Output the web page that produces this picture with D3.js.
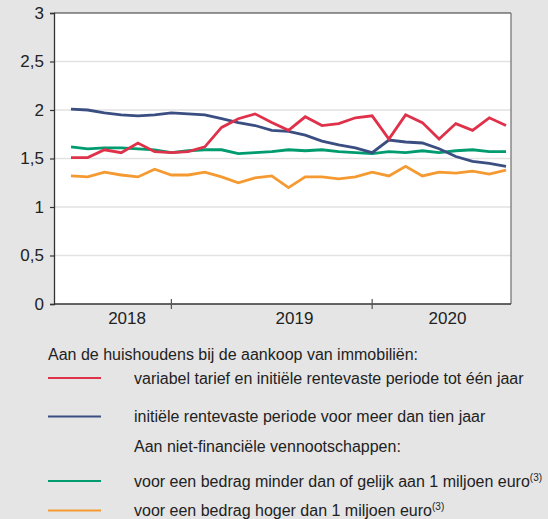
<!DOCTYPE html>
<html>
<head>
<meta charset="utf-8">
<script src="https://cdn.jsdelivr.net/npm/d3@7"></script>
<style>
  html, body { margin: 0; padding: 0; background: #e5e5e5; }
  svg { display: block; font-family: "Liberation Sans", Arial, sans-serif; }
</style>
</head>
<body>
<svg id="chart" width="548" height="519"></svg>
<script>
// ---- Data (monthly, Jul 2018 – Sep 2020) ----
const months = ["2018-07","2018-08","2018-09","2018-10","2018-11","2018-12",
  "2019-01","2019-02","2019-03","2019-04","2019-05","2019-06","2019-07","2019-08","2019-09","2019-10","2019-11","2019-12",
  "2020-01","2020-02","2020-03","2020-04","2020-05","2020-06","2020-07","2020-08","2020-09"];
const variabel = [1.51,1.51,1.59,1.56,1.66,1.57,1.56,1.57,1.62,1.82,1.91,1.96,1.87,1.79,1.93,1.84,1.86,1.92,1.94,1.70,1.95,1.87,1.70,1.86,1.79,1.92,1.84];
const tienJaar = [2.01,2.00,1.97,1.95,1.94,1.95,1.97,1.96,1.95,1.91,1.87,1.84,1.79,1.78,1.74,1.68,1.64,1.61,1.56,1.69,1.67,1.66,1.60,1.52,1.47,1.45,1.42];
const minder1m = [1.62,1.60,1.61,1.61,1.60,1.59,1.56,1.58,1.59,1.59,1.55,1.56,1.57,1.59,1.58,1.59,1.57,1.56,1.55,1.57,1.56,1.58,1.56,1.58,1.59,1.57,1.57];
const hoger1m = [1.32,1.31,1.36,1.33,1.31,1.39,1.33,1.33,1.36,1.31,1.25,1.30,1.32,1.20,1.31,1.31,1.29,1.31,1.36,1.32,1.42,1.32,1.36,1.35,1.37,1.34,1.38];
const yTicks = [0, 0.5, 1, 1.5, 2, 2.5, 3];
const yTickLabels = ["0","0,5","1","1,5","2","2,5","3"];
const years = ["2018","2019","2020"];

const seriesNames = [
  "variabel tarief en initiële rentevaste periode tot één jaar",
  "initiële rentevaste periode voor meer dan tien jaar",
  "voor een bedrag minder dan of gelijk aan 1 miljoen euro",
  "voor een bedrag hoger dan 1 miljoen euro"
];
const heading1 = "Aan de huishoudens bij de aankoop van immobiliën:";
const heading2 = "Aan niet-financiële vennootschappen:";

// ---- Layout ----
const colors = ["#e0314b", "#3b4e82", "#009b6e", "#f59a31"];
const frame = { left: 54, right: 511, top: 13, bottom: 304 };
const yearLabelIdx = [3.35, 13.36, 22.5];

const svg = d3.select("#chart");
const x = d3.scaleLinear().domain([0, months.length - 1]).range([71, 506]);
const y = d3.scaleLinear().domain([0, 3]).range([frame.bottom, frame.top]);

// plot background
svg.append("rect")
  .attr("x", frame.left).attr("y", frame.top)
  .attr("width", frame.right - frame.left).attr("height", frame.bottom - frame.top)
  .attr("fill", "#ffffff");

// gridlines
svg.append("g").selectAll("line").data(yTicks.filter(v => v > 0 && v < 3)).join("line")
  .attr("x1", frame.left).attr("x2", frame.right)
  .attr("y1", d => y(d)).attr("y2", d => y(d))
  .attr("stroke", "#e2e2e2").attr("stroke-width", 1.3);

// borders top/right
svg.append("line").attr("x1", frame.left).attr("x2", frame.right)
  .attr("y1", frame.top).attr("y2", frame.top).attr("stroke", "#333").attr("stroke-width", 1.2);
svg.append("line").attr("x1", frame.right).attr("x2", frame.right)
  .attr("y1", frame.top).attr("y2", frame.bottom).attr("stroke", "#777").attr("stroke-width", 1.3);

// y axis
const yAxis = d3.axisLeft(y).tickValues(yTicks)
  .tickFormat((d, i) => yTickLabels[i]).tickSize(4).tickPadding(6);
const gy = svg.append("g").attr("transform", `translate(${frame.left},0)`).call(yAxis);
gy.select(".domain").attr("stroke", "#333").attr("stroke-width", 1.3);
gy.selectAll(".tick line").attr("stroke", "#333").attr("stroke-width", 1.2);
gy.selectAll(".tick text").attr("font-size", 17).attr("fill", "#222")
  .attr("font-family", "Liberation Sans, Arial, sans-serif");

// x axis
svg.append("line").attr("x1", frame.left).attr("x2", frame.right)
  .attr("y1", frame.bottom).attr("y2", frame.bottom).attr("stroke", "#333").attr("stroke-width", 1.3);
const tickIdx = months.map((m, i) => i).filter(i => months[i].endsWith("-01"));
svg.append("g").selectAll("line").data(tickIdx).join("line")
  .attr("x1", d => x(d)).attr("x2", d => x(d))
  .attr("y1", frame.bottom - 5).attr("y2", frame.bottom + 5)
  .attr("stroke", "#555").attr("stroke-width", 1.2);
svg.append("g").selectAll("text").data(years).join("text")
  .attr("x", (d, i) => x(yearLabelIdx[i])).attr("y", 324)
  .attr("text-anchor", "middle").attr("font-size", 17).attr("fill", "#222")
  .text(d => d);

// lines
const allSeries = [variabel, tienJaar, minder1m, hoger1m];
const line = d3.line().x((d, i) => x(i)).y(d => y(d));
const drawOrder = [3, 2, 1, 0];
svg.append("g").selectAll("path").data(drawOrder).join("path")
  .attr("d", k => line(allSeries[k]))
  .attr("fill", "none").attr("stroke", k => colors[k])
  .attr("stroke-width", 2.8).attr("stroke-linejoin", "miter");

// legend
const lg = svg.append("g").attr("font-size", 16).attr("fill", "#222");
lg.append("text").attr("x", 48).attr("y", 360).text(heading1);
lg.append("text").attr("x", 134).attr("y", 452).text(heading2);
const legendLineY = [378, 416.5, 481, 510.5];
seriesNames.forEach((name, k) => {
  lg.append("line").attr("x1", 48).attr("x2", 101)
    .attr("y1", legendLineY[k]).attr("y2", legendLineY[k])
    .attr("stroke", colors[k]).attr("stroke-width", 2);
  const t = lg.append("text").attr("x", 134).attr("y", legendLineY[k] + 5.6);
  t.append("tspan").text(name);
  if (k >= 2) {
    t.append("tspan").attr("font-size", 10).attr("dy", -6).text("(3)");
  }
});
</script>
</body>
</html>
